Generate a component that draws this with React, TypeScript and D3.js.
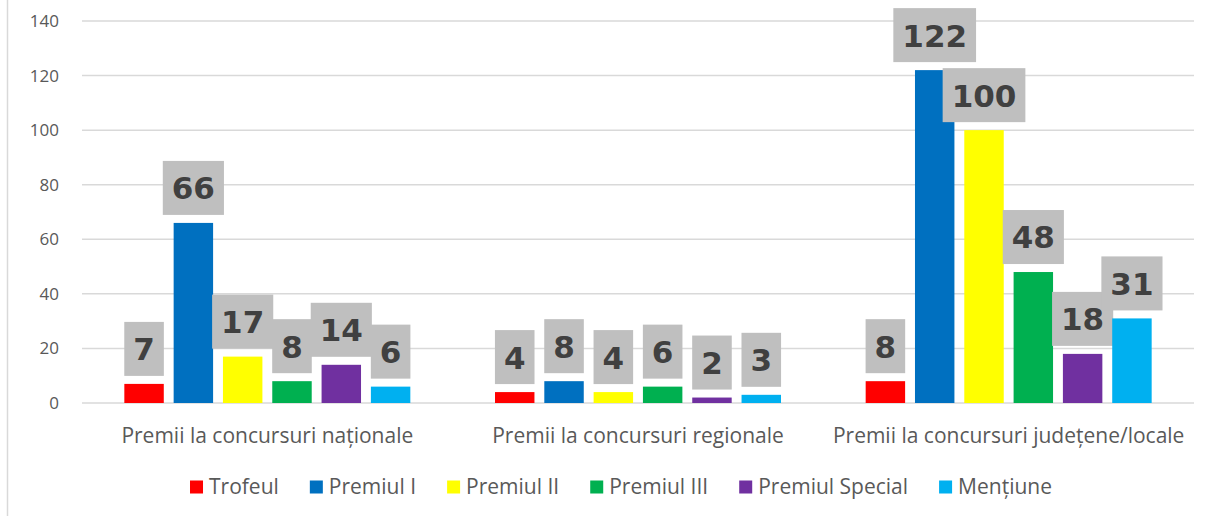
import React, { useEffect, useRef } from 'react'
import * as d3 from 'd3'

const categories = [
	'Premii la concursuri naționale',
	'Premii la concursuri regionale',
	'Premii la concursuri județene/locale',
]
const seriesNames = ['Trofeul', 'Premiul I', 'Premiul II', 'Premiul III', 'Premiul Special', 'Mențiune']
const seriesColors = ['#FF0000', '#0070C0', '#FFFF00', '#00B050', '#7030A0', '#00B0F0']
const trofeul = [7, 4, 8]
const premiulI = [66, 8, 122]
const premiulII = [17, 4, 100]
const premiulIII = [8, 6, 48]
const premiulSpecial = [14, 2, 18]
const mentiune = [6, 3, 31]
const yTicks = [0, 20, 40, 60, 80, 100, 120, 140]

const WIDTH = 1208
const HEIGHT = 516

const App = () => {
	const ref = useRef<SVGSVGElement>(null)

	useEffect(() => {
		const svg = d3.select(ref.current)
		svg.selectAll('*').remove()

		const values = [trofeul, premiulI, premiulII, premiulIII, premiulSpecial, mentiune]
		const font = "'Open Sans', sans-serif"

		const yScale = d3.scaleLinear().domain([0, 140]).range([403, 21])
		const x0 = d3.scaleBand().domain(categories).range([82, 1194]).padding(0)
		const groupW = 286
		const bw = x0.bandwidth()
		const x1 = d3
			.scaleBand()
			.domain(seriesNames)
			.range([(bw - groupW) / 2, (bw + groupW) / 2])
			.paddingInner(0.2)
			.paddingOuter(0)

		// frame edge on the left
		svg.append('line')
			.attr('x1', 7.5).attr('x2', 7.5)
			.attr('y1', 0).attr('y2', HEIGHT)
			.attr('stroke', '#D9D9D9').attr('stroke-width', 1.5)

		// grid + y labels
		svg.append('g')
			.selectAll('line')
			.data(yTicks)
			.join('line')
			.attr('x1', 82).attr('x2', 1194)
			.attr('y1', d => yScale(d)).attr('y2', d => yScale(d))
			.attr('stroke', '#D9D9D9').attr('stroke-width', 1.5)

		svg.append('g')
			.selectAll('text')
			.data(yTicks)
			.join('text')
			.attr('x', 59)
			.attr('y', d => yScale(d))
			.attr('dy', '0.35em')
			.attr('text-anchor', 'end')
			.attr('font-family', font)
			.attr('font-size', 17)
			.attr('fill', '#595959')
			.text(d => d)

		// bars
		const groups = svg.append('g')
			.selectAll('g')
			.data(categories)
			.join('g')
			.attr('transform', d => `translate(${x0(d)},0)`)

		const cells = groups.selectAll('g')
			.data((c, ci) => seriesNames.map((s, si) => ({ s, si, v: values[si][ci] })))
			.join('g')

		cells.append('rect')
			.attr('x', d => x1(d.s))
			.attr('width', x1.bandwidth())
			.attr('y', d => yScale(d.v))
			.attr('height', d => yScale(0) - yScale(d.v))
			.attr('fill', d => seriesColors[d.si])

		// data labels in grey boxes
		cells.each(function (d) {
			const g = d3.select(this)
			const cx = x1(d.s) + x1.bandwidth() / 2
			const bottom = yScale(d.v) - 8
			const box = g.append('rect')
				.attr('fill', '#BFBFBF')
			const t = g.append('text')
				.attr('x', cx)
				.attr('y', bottom - 27)
				.attr('dy', '0.37em')
				.attr('text-anchor', 'middle')
				.attr('font-family', "'DejaVu Sans', sans-serif")
				.attr('font-weight', 'bold')
				.attr('font-size', 31)
				.attr('fill', '#404040')
				.text(d.v)
			const tw = (t.node() as SVGTextElement).getComputedTextLength()
			const w = tw + 18
			box.attr('x', cx - w / 2).attr('width', w)
				.attr('y', bottom - 54).attr('height', 54)
		})

		// category labels
		svg.append('g')
			.selectAll('text')
			.data(categories)
			.join('text')
			.attr('x', d => x0(d) + bw / 2)
			.attr('y', 436)
			.attr('dy', '0.35em')
			.attr('text-anchor', 'middle')
			.attr('font-family', font)
			.attr('font-size', 21)
			.attr('fill', '#595959')
			.text(d => d)

		// legend
		const legend = svg.append('g')
		let cursor = 0
		seriesNames.forEach((name, i) => {
			const item = legend.append('g').attr('transform', `translate(${cursor},0)`)
			item.append('rect')
				.attr('x', 0).attr('y', -6.5)
				.attr('width', 13).attr('height', 13)
				.attr('fill', seriesColors[i])
			const t = item.append('text')
				.attr('x', 19)
				.attr('y', 0)
				.attr('dy', '0.35em')
				.attr('font-family', font)
				.attr('font-size', 21)
				.attr('fill', '#595959')
				.text(name)
			const tw = (t.node() as SVGTextElement).getComputedTextLength()
			cursor += 19 + tw + (i < seriesNames.length - 1 ? 31 : 0)
		})
		legend.attr('transform', `translate(${621 - cursor / 2},487)`)
	}, [])

	return (
		<svg
			ref={ref}
			width={WIDTH}
			height={HEIGHT}
			style={{ position: 'absolute', left: 0, top: 0, background: '#fff' }}
		/>
	)
}

export default App
